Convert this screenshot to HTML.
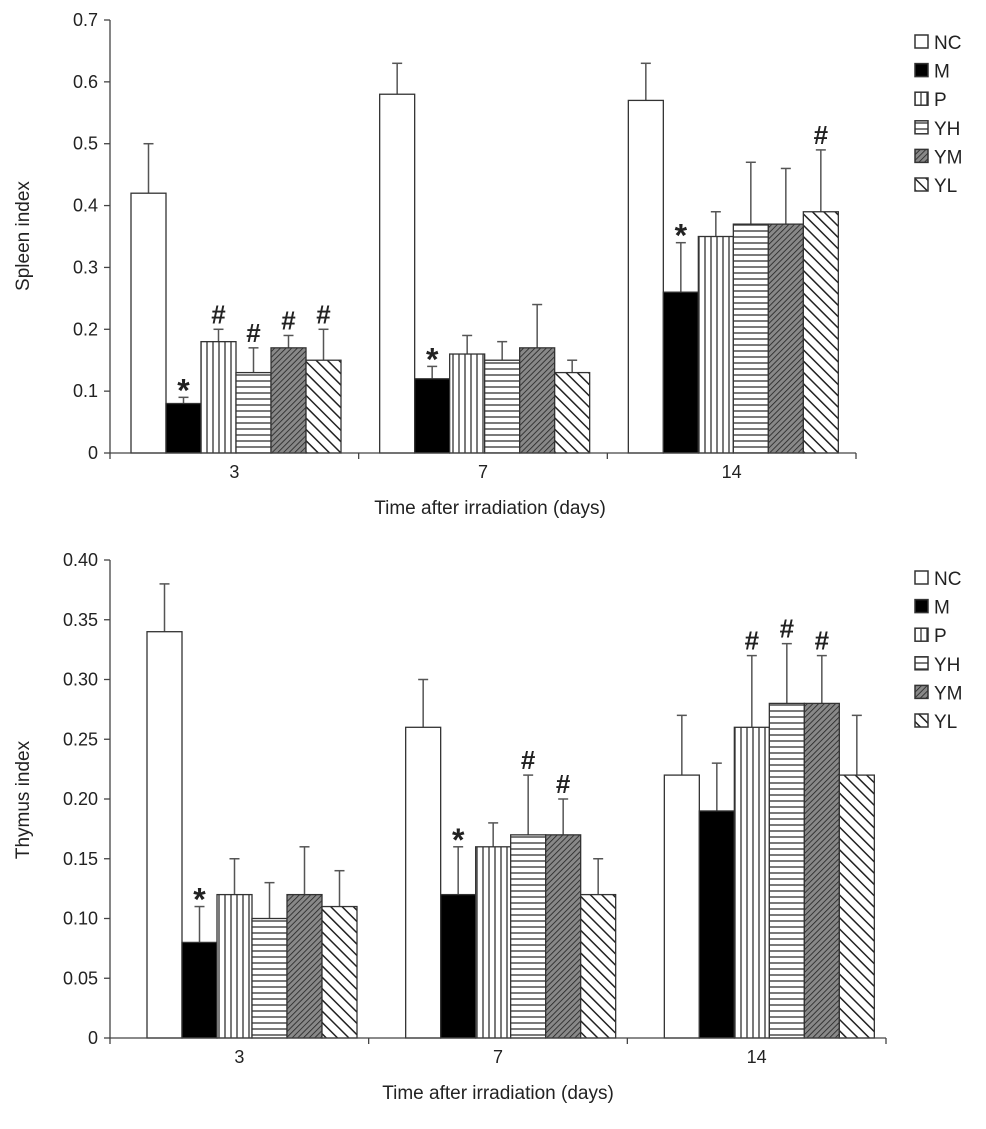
<!DOCTYPE html>
<html><head><meta charset="utf-8"><style>
body{margin:0;background:#fff;}
svg text{font-family:"Liberation Sans",Arial,sans-serif;fill:#222;}
</style></head><body>
<svg id="chart" width="986" height="1124" xmlns="http://www.w3.org/2000/svg">
<defs>
<pattern id="pP" width="6" height="6" patternUnits="userSpaceOnUse"><rect width="6" height="6" fill="#fff"/><line x1="3" y1="0" x2="3" y2="6" stroke="#333" stroke-width="1.3"/></pattern>
<pattern id="pYH" width="6" height="6" patternUnits="userSpaceOnUse"><rect width="6" height="6" fill="#fff"/><line x1="0" y1="3" x2="6" y2="3" stroke="#333" stroke-width="1.3"/></pattern>
<pattern id="pYM" width="4" height="4" patternUnits="userSpaceOnUse" patternTransform="rotate(45)"><rect width="4" height="4" fill="#888"/><line x1="0" y1="0" x2="0" y2="4" stroke="#222" stroke-width="1.6"/></pattern>
<pattern id="pYL" width="8" height="8" patternUnits="userSpaceOnUse" patternTransform="rotate(-45)"><rect width="8" height="8" fill="#fff"/><line x1="0" y1="0" x2="0" y2="8" stroke="#222" stroke-width="3"/></pattern>
</defs>
</svg>
<script>
const series = ["NC","M","P","YH","YM","YL"];
const categories = ["3","7","14"];
const spleenValues = [[0.42,0.58,0.57],[0.08,0.12,0.26],[0.18,0.16,0.35],[0.13,0.15,0.37],[0.17,0.17,0.37],[0.15,0.13,0.39]];
const spleenErrors = [[0.08,0.05,0.06],[0.01,0.02,0.08],[0.02,0.03,0.04],[0.04,0.03,0.10],[0.02,0.07,0.09],[0.05,0.02,0.10]];
const spleenMarks = [["","",""],["*","*","*"],["#","",""],["#","",""],["#","",""],["#","","#"]];
const spleenTicks = ["0","0.1","0.2","0.3","0.4","0.5","0.6","0.7"];
const thymusValues = [[0.34,0.26,0.22],[0.08,0.12,0.19],[0.12,0.16,0.26],[0.10,0.17,0.28],[0.12,0.17,0.28],[0.11,0.12,0.22]];
const thymusErrors = [[0.04,0.04,0.05],[0.03,0.04,0.04],[0.03,0.02,0.06],[0.03,0.05,0.05],[0.04,0.03,0.04],[0.03,0.03,0.05]];
const thymusMarks = [["","",""],["*","*",""],["","","#"],["","#","#"],["","#","#"],["","",""]];
const thymusTicks = ["0","0.05","0.10","0.15","0.20","0.25","0.30","0.35","0.40"];

const fills = ["#fff","#000","url(#pP)","url(#pYH)","url(#pYM)","url(#pYL)"];
const svg = document.getElementById('chart');
const NS = "http://www.w3.org/2000/svg";
function mk(tag, attrs, parent){const e=document.createElementNS(NS,tag);for(const k in attrs)e.setAttribute(k,attrs[k]);(parent||svg).appendChild(e);return e;}

function drawChart(cfg){
  const g = mk('g',{});
  
  
  const ymax = parseFloat(cfg.ticks[cfg.ticks.length-1]);
  const y = v => cfg.y0 - v/ymax*(cfg.y0-cfg.yTop);
  const gw = (cfg.x1-cfg.x0)/categories.length;
  const bw = 35;
  // bars
  categories.forEach((c,ci)=>{
    series.forEach((s,si)=>{
      const v = cfg.values[si][ci], e = cfg.errors[si][ci];
      const bx = cfg.x0 + ci*gw + cfg.off + si*bw;
      const cx = bx + bw/2;
      const el = mk('line',{x1:cx,x2:cx,y1:y(v),y2:y(v+e),stroke:'#555','stroke-width':1.5},g);
      
      
      const cap = mk('line',{x1:cx-5,x2:cx+5,y1:y(v+e),y2:y(v+e),stroke:'#555','stroke-width':1.5},g);
      
      
      const r = mk('rect',{x:bx,y:y(v),width:bw,height:cfg.y0-y(v),fill:fills[si],stroke:'#333','stroke-width':1.3},g);
      
      
      const m = cfg.marks[si][ci];
      if(m){
        const t = mk('text',{x:cx,y:y(v+e)-(m==='*'?-4:6),'text-anchor':'middle','font-size':m==='*'?32:26,'font-weight':'bold'},g);
        t.textContent = m;
        
        
      }
    });
  });
  // axes
  const ax = mk('path',{d:`M${cfg.x0},${cfg.yTop} V${cfg.y0} H${cfg.x1}`,fill:'none',stroke:'#444','stroke-width':1.3},g);
  
  
  cfg.ticks.forEach(t=>{
    const yy = y(parseFloat(t));
    mk('line',{x1:cfg.x0-6,x2:cfg.x0,y1:yy,y2:yy,stroke:'#444','stroke-width':1.3},g);
    const tx = mk('text',{x:cfg.x0-12,y:yy+6,'text-anchor':'end','font-size':18},g);
    tx.textContent = t;
    
    
  });
  for(let i=0;i<=categories.length;i++){
    const xx = cfg.x0+i*gw;
    mk('line',{x1:xx,x2:xx,y1:cfg.y0,y2:cfg.y0+6,stroke:'#444','stroke-width':1.3},g);
  }
  categories.forEach((c,ci)=>{
    const tx = mk('text',{x:cfg.x0+ci*gw+gw/2,y:cfg.y0+25,'text-anchor':'middle','font-size':18},g);
    tx.textContent = c;
    
    
  });
  const xt = mk('text',{x:cfg.xTitleX,y:cfg.y0+61,'text-anchor':'middle','font-size':19},g);
  xt.textContent = 'Time after irradiation (days)';
  
  
  const yt = mk('text',{x:0,y:0,'text-anchor':'middle','font-size':19,transform:`translate(29,${cfg.yTitleY}) rotate(-90)`},g);
  yt.textContent = cfg.ylabel;
  
  
  // legend
  series.forEach((s,si)=>{
    const ly = cfg.legY + si*28.6;
    const r = mk('rect',{x:915,y:ly-7,width:13,height:13,fill:fills[si],stroke:'#333','stroke-width':1.5},g);
    
    
    const t = mk('text',{x:934,y:ly+7,'font-size':19},g);
    t.textContent = s;
    
    
  });
}
drawChart({name:'spleen-chart',values:spleenValues,errors:spleenErrors,marks:spleenMarks,ticks:spleenTicks,
  x0:110,x1:856,off:21,y0:453,yTop:20,ylabel:'Spleen index',yTitleY:236,xTitleX:490,legY:42});
drawChart({name:'thymus-chart',values:thymusValues,errors:thymusErrors,marks:thymusMarks,ticks:thymusTicks,
  x0:110,x1:886,off:37,y0:1038,yTop:560,ylabel:'Thymus index',yTitleY:800,xTitleX:498,legY:578});
</script>
</body></html>
